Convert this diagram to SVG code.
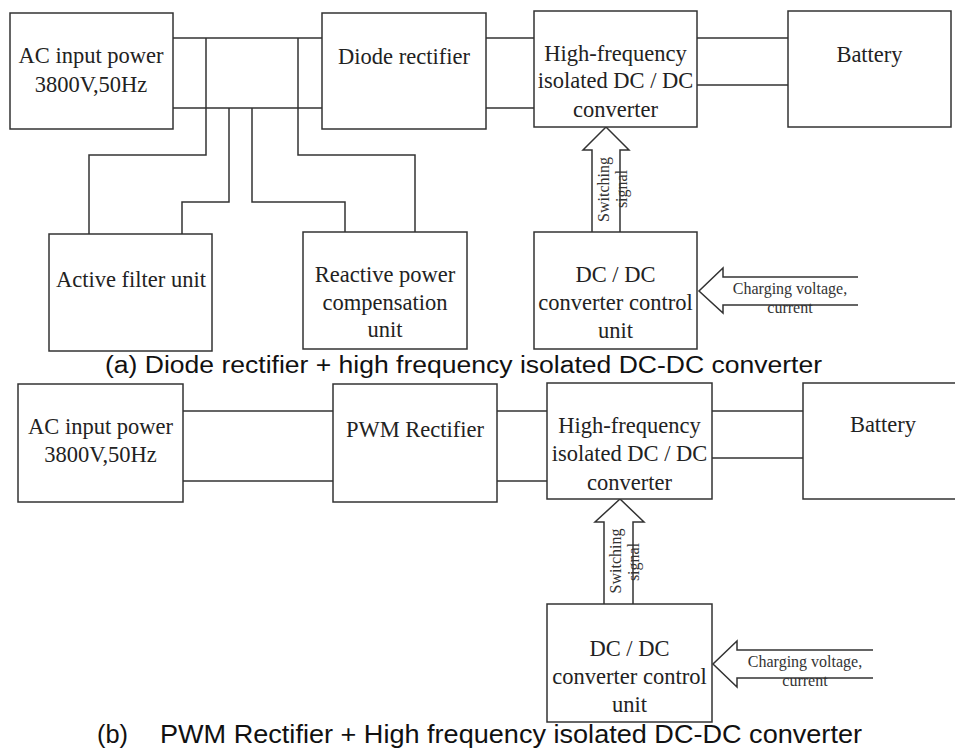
<svg xmlns="http://www.w3.org/2000/svg" width="955" height="749" viewBox="0 0 955 749">
<style>
.box{fill:#fff;stroke:#333;stroke-width:1.5}
.ln{fill:none;stroke:#333;stroke-width:1.5}
.t{font-family:"Liberation Serif","Times New Roman",serif;font-size:22.5px;fill:#222;text-anchor:middle}
.s{font-family:"Liberation Serif","Times New Roman",serif;font-size:16px;fill:#333;text-anchor:middle}
.c{font-family:"Liberation Sans",Arial,sans-serif;fill:#111}
</style>
<rect width="955" height="749" fill="#fff"/>
<g id="connectors">
  <!-- (a) bus -->
  <path class="ln" d="M173,38H322M173,108H322"/>
  <path class="ln" d="M206,38V155H89V234"/>
  <path class="ln" d="M229,108V202H182V234"/>
  <path class="ln" d="M252,108V202H345V232"/>
  <path class="ln" d="M298,38V155H415V232"/>
  <path class="ln" d="M486,38H534M486,108H534"/>
  <path class="ln" d="M697,38H788M697,85H788"/>
  <path class="ln" d="M592,232V150H583L606,127L629,150H620V232"/>
  <path class="ln" d="M858,277H723V268L699,291L723,313V305H858"/>
  <!-- (b) -->
  <path class="ln" d="M183,411H333M183,481H333"/>
  <path class="ln" d="M497,411H547M497,481H547"/>
  <path class="ln" d="M712,411H803M712,458H803"/>
  <path class="ln" d="M604,604V522H595L620,499L644,522H633V604"/>
  <path class="ln" d="M873,650H737V641L713,664L737,687V678H873"/>
</g>
<g id="a-ac"><rect class="box" x="10" y="13" width="163" height="116"/><text class="t" x="91" y="63">AC input power</text><text class="t" x="91" y="92">3800V,50Hz</text></g>
<g id="a-diode"><rect class="box" x="322" y="13" width="164" height="116"/><text class="t" x="404" y="64">Diode rectifier</text></g>
<g id="a-hf"><rect class="box" x="534" y="11" width="163" height="116"/><text class="t" x="615.5" y="61">High-frequency</text><text class="t" x="615.5" y="88">isolated DC / DC</text><text class="t" x="615.5" y="117">converter</text></g>
<g id="a-battery"><rect class="box" x="788" y="11" width="163" height="116"/><text class="t" x="869.5" y="62">Battery</text></g>
<g id="a-filter"><rect class="box" x="49" y="234" width="163" height="117"/><text class="t" x="131" y="287">Active filter unit</text></g>
<g id="a-reactive"><rect class="box" x="303" y="232" width="164" height="117"/><text class="t" x="385" y="282">Reactive power</text><text class="t" x="385" y="310">compensation</text><text class="t" x="385" y="337">unit</text></g>
<g id="a-control"><rect class="box" x="534" y="232" width="163" height="117"/><text class="t" x="615.5" y="282">DC / DC</text><text class="t" x="615.5" y="310">converter control</text><text class="t" x="615.5" y="338">unit</text></g>
<g id="a-labels">
  <text class="s" transform="translate(609,189.5) rotate(-90)">Switching</text>
  <text class="s" transform="translate(627,189) rotate(-90)">signal</text>
  <text class="s" x="790" y="294">Charging voltage,</text>
  <text class="s" x="790" y="313">current</text>
</g>
<text class="c" x="105" y="373" font-size="23" textLength="717" lengthAdjust="spacingAndGlyphs">(a) Diode rectifier + high frequency isolated DC-DC converter</text>
<g id="b-ac"><rect class="box" x="18" y="384" width="165" height="118"/><text class="t" x="100.5" y="434">AC input power</text><text class="t" x="100.5" y="462">3800V,50Hz</text></g>
<g id="b-pwm"><rect class="box" x="333" y="384" width="164" height="118"/><text class="t" x="415" y="437">PWM Rectifier</text></g>
<g id="b-hf"><rect class="box" x="547" y="383" width="165" height="116"/><text class="t" x="629.5" y="433">High-frequency</text><text class="t" x="629.5" y="461">isolated DC / DC</text><text class="t" x="629.5" y="490">converter</text></g>
<g id="b-battery"><rect class="box" x="803" y="383" width="154" height="116"/><text class="t" x="883" y="432">Battery</text></g>
<g id="b-control"><rect class="box" x="547" y="604" width="165" height="118"/><text class="t" x="629.5" y="656">DC / DC</text><text class="t" x="629.5" y="684">converter control</text><text class="t" x="629.5" y="712">unit</text></g>
<g id="b-labels">
  <text class="s" transform="translate(621,561) rotate(-90)">Switching</text>
  <text class="s" transform="translate(639,562) rotate(-90)">signal</text>
  <text class="s" x="805" y="667">Charging voltage,</text>
  <text class="s" x="805" y="686">current</text>
</g>
<text class="c" y="743" font-size="25"><tspan x="97" textLength="31" lengthAdjust="spacingAndGlyphs">(b)</tspan><tspan x="160" textLength="702" lengthAdjust="spacingAndGlyphs">PWM Rectifier + High frequency isolated DC-DC converter</tspan></text>
</svg>
